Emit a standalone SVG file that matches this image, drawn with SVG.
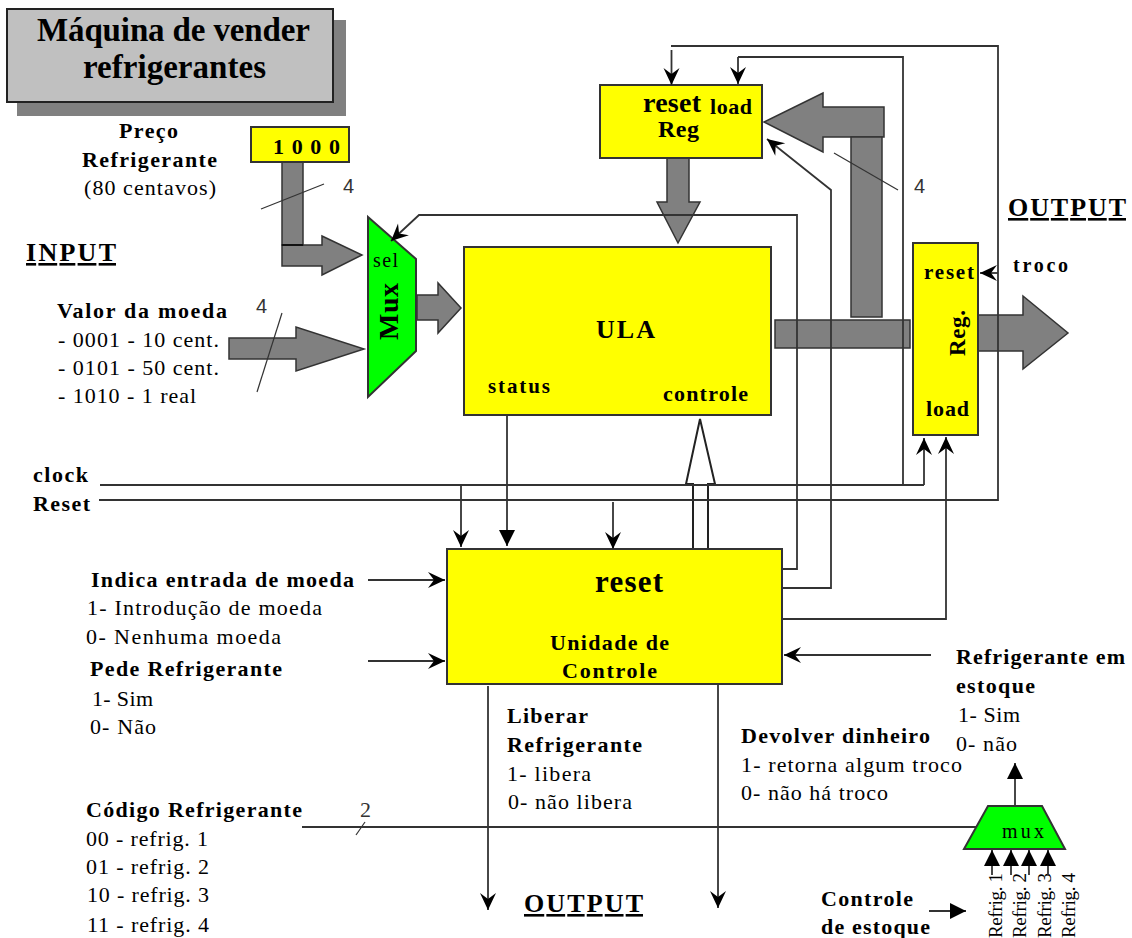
<svg xmlns="http://www.w3.org/2000/svg" width="1132" height="938" viewBox="0 0 1132 938">
<style>
text{font-family:"Liberation Serif","Times New Roman",serif;fill:#000;font-size:22px}
.b{font-weight:bold}
.h{font-weight:bold;font-size:26px;text-decoration:underline}
.s{font-family:"Liberation Sans",Arial,sans-serif;fill:#333;font-size:20px}
.box{fill:#ff0;stroke:#333;stroke-width:2}
.grn{fill:#0f0;stroke:#333;stroke-width:2}
.fat{fill:#808080;stroke:#333;stroke-width:1.5}
.hol{fill:#fff;stroke:#222;stroke-width:2}
.ln{fill:none;stroke:#333;stroke-width:1.8}
.tn{fill:none;stroke:#333;stroke-width:1.2}
.ba{marker-end:url(#barb)}
.tr{marker-end:url(#tri)}
</style>
<defs>
<marker id="barb" markerUnits="userSpaceOnUse" markerWidth="20" markerHeight="18" refX="18" refY="9" orient="auto"><path d="M18,9 L1,1 L7,9 L1,17 Z" fill="#000"/></marker>
<marker id="tri" markerUnits="userSpaceOnUse" markerWidth="18" markerHeight="18" refX="16" refY="9" orient="auto"><path d="M16,9 L0,1 L0,17 Z" fill="#000"/></marker>
</defs>
<rect width="1132" height="938" fill="#fff"/>

<g id="title">
<rect x="17" y="20" width="329" height="96" fill="#808080"/>
<rect x="7" y="9" width="326" height="93" fill="#c0c0c0" stroke="#222" stroke-width="2"/>
<text class="b" x="37" y="41" style="font-size:33px" textLength="273">Máquina de vender</text>
<text class="b" x="83" y="78" style="font-size:33px" textLength="183">refrigerantes</text>
</g>

<g id="fat-arrows">
<path class="fat" d="M282,245H322V236L362,255L322,275V266H282Z"/>
<rect class="fat" x="282" y="162" width="21" height="83"/>
<path d="M282,245H303" class="ln" style="stroke:#111;stroke-width:2"/>
<path class="fat" d="M229,338H296V327L364,349L296,371V359H229Z"/>
<path class="fat" d="M417,295H438V283L461,308L438,333V320H417Z"/>
<path class="fat" d="M667,158H689V202H700L678,243L657,202H667Z"/>
<path class="fat" d="M884,107V137H823V152L764,122L823,93V107Z"/>
<rect class="fat" x="851" y="137" width="31" height="180"/>
<rect class="fat" x="775" y="320" width="135" height="28"/>
<path class="fat" d="M978,315H1023V296L1068,333L1023,369V351H978Z"/>
<path class="hol" d="M693,551V484H686L700,419L715,484H708V551Z"/>
</g>

<g id="preco">
<text class="b" x="119" y="138" textLength="59">Preço</text>
<text class="b" x="82" y="167" textLength="135">Refrigerante</text>
<text x="84" y="195" textLength="132">(80 centavos)</text>
</g>
<g id="const-1000">
<rect class="box" x="251" y="127" width="98" height="35"/>
<text class="b" x="273" y="154" textLength="67">1000</text>
</g>
<g id="input">
<text class="h" x="26" y="261" textLength="90">INPUT</text>
<text class="b" x="57" y="318" textLength="170">Valor da moeda</text>
<text x="58" y="347" textLength="161">- 0001 - 10 cent.</text>
<text x="58" y="375" textLength="161">- 0101 - 50 cent.</text>
<text x="58" y="403" textLength="138">- 1010 - 1 real</text>
</g>
<g id="mux">
<path class="grn" d="M368,217L416,259V351L368,397Z"/>
<text x="373" y="267" style="font-size:20px" textLength="25">sel</text>
<text class="b" transform="translate(398,340) rotate(-90)" style="font-size:28px" textLength="57">Mux</text>
</g>
<g id="ula">
<rect class="box" x="464" y="247" width="307" height="168"/>
<text class="b" x="596" y="338" style="font-size:26px" textLength="59">ULA</text>
<text class="b" x="488" y="393" style="font-size:21px" textLength="62">status</text>
<text class="b" x="663" y="401" textLength="85">controle</text>
</g>
<g id="reg-top">
<rect class="box" x="600" y="85" width="162" height="73"/>
<text class="b" x="643" y="112" style="font-size:28px" textLength="58">reset</text>
<text class="b" x="710" y="114" textLength="42">load</text>
<text class="b" x="658" y="137" style="font-size:24px" textLength="41">Reg</text>
</g>
<g id="reg-right">
<rect class="box" x="913" y="243" width="65" height="192"/>
<text class="b" x="924" y="279" style="font-size:21px" textLength="50">reset</text>
<text class="b" x="926" y="416" textLength="43">load</text>
<text class="b" transform="translate(965,356) rotate(-90)" style="font-size:23px" textLength="46">Reg.</text>
</g>
<g id="output-top">
<text class="h" x="1008" y="216" textLength="118">OUTPUT</text>
<text class="b" x="1013" y="272" style="font-size:20px" textLength="55">troco</text>
</g>
<g id="signals">
<text class="b" x="33" y="482" textLength="55">clock</text>
<text class="b" x="33" y="511" textLength="57">Reset</text>
<text class="b" x="91" y="587" textLength="263">Indica entrada de moeda</text>
<text x="87" y="615" textLength="235">1- Introdução de moeda</text>
<text x="86" y="644" textLength="195">0- Nenhuma moeda</text>
<text class="b" x="90" y="676" textLength="192">Pede Refrigerante</text>
<text x="92" y="706" textLength="61">1- Sim</text>
<text x="90" y="734" textLength="66">0- Não</text>
<text class="b" x="86" y="817" textLength="216">Código Refrigerante</text>
<text x="86" y="846" textLength="122">00 - refrig. 1</text>
<text x="86" y="874" textLength="123">01 - refrig. 2</text>
<text x="87" y="902" textLength="122">10 - refrig. 3</text>
<text x="87" y="932" textLength="122">11 - refrig. 4</text>
</g>
<g id="unidade-controle">
<rect class="box" x="447" y="549" width="335" height="135"/>
<text class="b" x="595" y="592" style="font-size:31px" textLength="68">reset</text>
<text class="b" x="550" y="650" textLength="119">Unidade de</text>
<text class="b" x="562" y="678" textLength="95">Controle</text>
</g>
<g id="output-bottom">
<text class="b" x="507" y="723" textLength="81">Liberar</text>
<text class="b" x="507" y="752" textLength="135">Refrigerante</text>
<text x="507" y="781" textLength="84">1- libera</text>
<text x="508" y="809" textLength="124">0- não libera</text>
<text class="b" x="741" y="743" textLength="189">Devolver dinheiro</text>
<text x="741" y="772" textLength="221">1- retorna algum troco</text>
<text x="741" y="800" textLength="147">0- não há troco</text>
<text class="h" x="524" y="912" textLength="119">OUTPUT</text>
</g>
<g id="estoque">
<text class="b" x="956" y="664" textLength="169">Refrigerante em</text>
<text class="b" x="956" y="693" textLength="79">estoque</text>
<text x="958" y="722" textLength="62">1- Sim</text>
<text x="956" y="751" textLength="61">0- não</text>
<text class="b" x="821" y="906" textLength="92">Controle</text>
<text class="b" x="821" y="934" textLength="109">de estoque</text>
</g>
<g id="mux-estoque">
<path class="grn" d="M988,806H1042L1065,849H964Z"/>
<text x="1002" y="838" style="font-size:20px" textLength="42">mux</text>
<text transform="translate(1002,938) rotate(-90)" style="font-size:19px" textLength="65">Refrig. 1</text>
<text transform="translate(1026,938) rotate(-90)" style="font-size:19px" textLength="65">Refrig. 2</text>
<text transform="translate(1051,938) rotate(-90)" style="font-size:19px" textLength="65">Refrig. 3</text>
<text transform="translate(1075,938) rotate(-90)" style="font-size:19px" textLength="65">Refrig. 4</text>
</g>
<g id="bus-labels">
<text class="s" x="343" y="193">4</text>
<text class="s" x="256" y="313">4</text>
<text class="s" x="914" y="193">4</text>
<text x="360" y="817" style="font-size:22px;fill:#333">2</text>
</g>

<g id="connectors">
<path class="tn" d="M261,209L324,184"/>
<path class="tn" d="M257,392L282,313"/>
<path class="tn" d="M834,153L898,190"/>
<path class="tn" d="M356,835L365,822"/>
<path class="ln" d="M100,485H924"/>
<path class="ln ba" d="M924,485V438"/>
<path class="ln" d="M99,500H998V46H671"/>
<path class="ln ba" d="M671.500,50V85"/>
<path class="ln" d="M903,485V57H738"/>
<path class="ln ba" d="M738,57V84"/>
<path class="ln ba" d="M782,569H797V215H419L391,241"/>
<path class="ln ba" d="M782,588H831V190L767,139"/>
<path class="ln ba" d="M782,619H946V437"/>
<path class="ln ba" d="M998,273H980"/>
<path class="ln ba" d="M461,485V547"/>
<path class="ln tr" d="M507,415V546"/>
<path class="ln ba" d="M613,502V549"/>
<path class="ln ba" d="M368,580H445"/>
<path class="ln ba" d="M368,661H445"/>
<path class="ln ba" d="M931,655H784"/>
<path class="ln ba" d="M488,686V910"/>
<path class="ln ba" d="M718,684V908"/>
<path class="ln" d="M302,827H977"/>
<path class="ln tr" d="M1015,806V763"/>
<path class="ln tr" d="M992,875V850"/>
<path class="ln tr" d="M1011,875V850"/>
<path class="ln tr" d="M1029,875V850"/>
<path class="ln tr" d="M1048,875V850"/>
<path class="ln tr" d="M929,911H966"/>
</g>
</svg>
